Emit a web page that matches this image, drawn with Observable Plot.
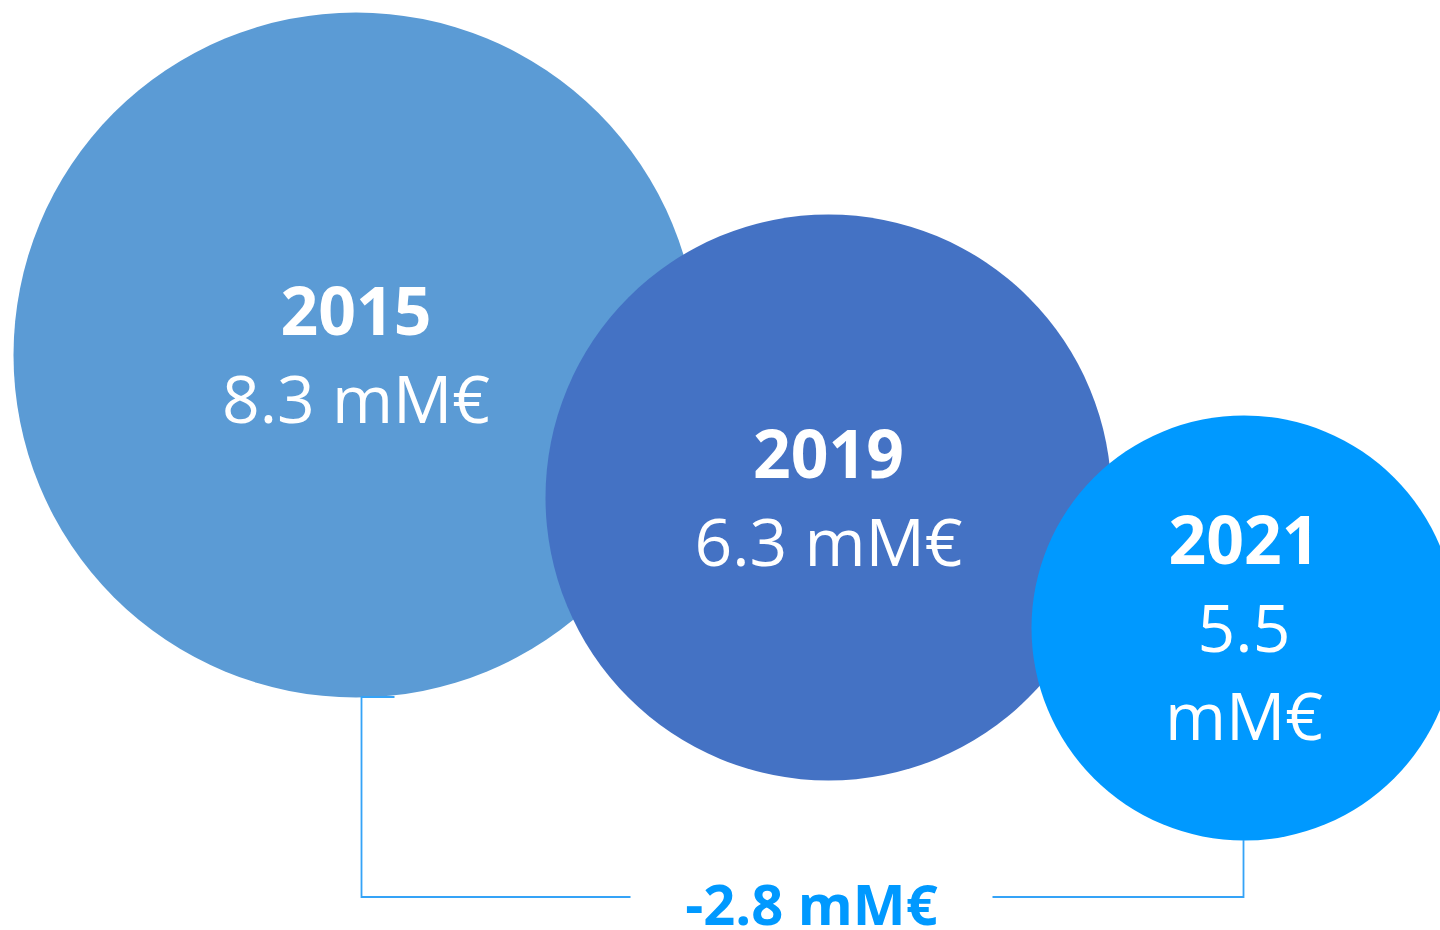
<!DOCTYPE html>
<html>
<head>
<meta charset="utf-8">
<script src="https://cdn.jsdelivr.net/npm/d3@7"></script>
<script src="https://cdn.jsdelivr.net/npm/@observablehq/plot@0.6"></script>
<style>
  html, body { margin: 0; padding: 0; background: #ffffff; overflow: hidden; }
  #chart svg { display: block; }
</style>
</head>
<body>
<div id="chart"></div>
<script>
// ---- data ----
const years = [2015, 2019, 2021];
const values = [8.3, 6.3, 5.5];
const unit = "mM€";
const valueLabels = ["8.3 mM€", "6.3 mM€", "5.5\nmM€"];
const colors = ["#5B9BD5", "#4472C4", "#0099FF"];
const change = +(values[values.length - 1] - values[0]).toFixed(1);
const changeLabel = `${change} ${unit}`;

const data = years.map((year, i) => ({year, value: values[i], label: valueLabels[i]}));

const W = 1440, H = 930;
const font = "'Open Sans', 'Noto Sans', sans-serif";
const accent = "#0099FF";
const lineColor = "#35A3F7";

const nLines = s => s.split("\n").length;

const bracket = Plot.dot([data[0], data[data.length - 1]], {
  x: "year", y: "year", r: "value",
  render(index, scales, values, dimensions) {
    const [a, b] = index;
    const x0 = values.x[a] + 6, yb0 = values.y[a] + values.r[a];
    const x1 = values.x[b], yb1 = values.y[b] + values.r[b];
    const yBase = dimensions.height - 33;
    const xm = (x0 + x1) / 2 + 9;
    const gap = 181;
    const g = d3.create("svg:g");
    g.append("path")
      .attr("fill", "none")
      .attr("stroke", lineColor)
      .attr("stroke-width", 1.8)
      .attr("d", `M${x0 + 33},${yb0}H${x0}V${yBase}H${xm - gap}M${xm + gap},${yBase}H${x1}V${yb1}`);
    g.append("text")
      .attr("x", xm)
      .attr("y", dimensions.height - 5)
      .attr("text-anchor", "middle")
      .attr("fill", accent)
      .attr("font-family", font)
      .attr("font-weight", "bold")
      .attr("font-size", 56)
      .text(changeLabel);
    return g.node();
  }
});

const chart = Plot.plot({
  width: W,
  height: H,
  margin: 0,
  style: {fontFamily: font, background: "#ffffff"},
  x: {type: "linear", domain: years, range: [355.5, 828, 1243.5], axis: null},
  y: {type: "linear", domain: years, range: [354.5, 497, 627.5], axis: null},
  r: {type: "linear", domain: [5.5, 6.3, 8.3], range: [212.5, 283, 342.5]},
  color: {type: "ordinal", domain: years, range: colors},
  marks: [
    Plot.dot(data, {x: "year", y: "year", r: "value", fill: "year", stroke: "none"}),
    bracket,
    Plot.text(data, {
      x: "year", y: "year",
      text: d => `${d.year}` + "\n".repeat(nLines(d.label)),
      fill: "white", fontWeight: "bold", fontSize: 66, lineHeight: 88 / 66, dy: -4,
      fontFamily: font
    }),
    Plot.text(data, {
      x: "year", y: "year",
      text: d => "\n" + d.label,
      fill: "white", fontWeight: "normal", fontSize: 66, lineHeight: 88 / 66, dy: -4,
      fontFamily: font
    })
  ]
});

document.getElementById("chart").appendChild(chart);
</script>
</body>
</html>
